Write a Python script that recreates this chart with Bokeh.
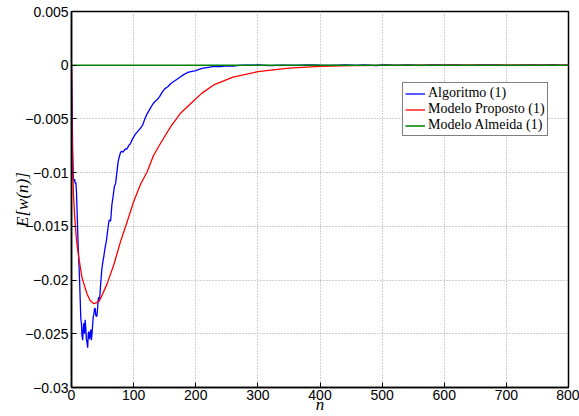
from bokeh.plotting import figure
from bokeh.models import ColumnDataSource, Legend, LegendItem, FixedTicker
from bokeh.embed import file_html
from bokeh.resources import INLINE

# ---------------- data ----------------
n_alg = [0, 1, 2, 3, 4, 5, 6, 7, 8, 9, 10, 11, 12, 13, 14, 15, 16, 17, 18, 19,
         20, 21, 22, 23, 24, 25, 26, 27, 28, 29, 30, 31, 32, 33, 34, 35, 36, 37, 38, 39,
         40, 41, 42, 43, 44, 45, 46, 47, 48, 49, 50, 52, 54, 56, 58, 60, 61, 63, 65, 67,
         69, 71, 73, 75, 77, 79, 81, 83, 85, 87, 89, 91, 93, 95, 97, 100, 103, 106, 109, 112,
         115, 118, 121, 124, 127, 130, 134, 138, 142, 146, 150, 155, 160, 165, 170, 175, 180, 186, 192, 200,
         210, 220, 230, 240, 250, 260, 270, 280, 300, 320, 340, 360, 380, 400, 420, 440, 460, 470, 480, 490,
         500, 510, 520, 530, 540, 560, 580, 600, 620, 640, 660, 680, 700, 720, 740, 760, 770, 780, 790, 800]
e_alg = [0, -0.0040, -0.0085, -0.0105, -0.0108, -0.0106, -0.0110, -0.0109, -0.0118, -0.0136,
         -0.0155, -0.0172, -0.0185, -0.0200, -0.0218, -0.0236, -0.0240, -0.0252, -0.0256, -0.0244,
         -0.0240, -0.0250, -0.0237, -0.0245, -0.0255, -0.0258, -0.0263, -0.0250, -0.0248, -0.0255,
         -0.0250, -0.0246, -0.0256, -0.0250, -0.0242, -0.0234, -0.0232, -0.0227, -0.0226, -0.0232,
         -0.0234, -0.0233, -0.0226, -0.0218, -0.0216, -0.0220, -0.0212, -0.0203, -0.0196, -0.0189,
         -0.0185, -0.0178, -0.0170, -0.0164, -0.0155, -0.0146, -0.0144, -0.0145, -0.0130, -0.0122,
         -0.0113, -0.0110, -0.0100, -0.0090, -0.0085, -0.0081, -0.0080, -0.0081, -0.0079, -0.0078,
         -0.0078, -0.0076, -0.0074, -0.0073, -0.0070, -0.0067, -0.0064, -0.0062, -0.0060, -0.0058,
         -0.0055, -0.0050, -0.0046, -0.0043, -0.0040, -0.0037, -0.0034, -0.0032, -0.0029, -0.0025,
         -0.0022, -0.0020, -0.0017, -0.0015, -0.0013, -0.0011, -0.0009, -0.0007, -0.0006, -0.0005,
         -0.0003, -0.0002, -0.0001, -0.00012, -0.00005, -0.00008, -0.00002, 0.0, 0.00002, -0.00003,
         0.00001, -0.00002, 0.00003, 0.0, -0.00002, 0.00002, -0.00001, 0.00004, 0.0, -0.00003,
         0.00002, 0.00004, -0.00002, 0.00001, 0.00003, -0.00002, 0.00002, 0.0, 0.00004, -0.00001,
         0.00002, 0.00003, -0.00002, 0.00001, 0.00003, 0.0, 0.00004, 0.00002, -0.00001, 0.00002]

n_mod = [0, 1, 2, 3, 5, 8, 12, 17, 25, 30, 36, 41, 47, 57, 68, 79, 90, 100, 111, 122,
         132, 145, 160, 175, 195, 210, 230, 260, 300, 350, 400, 450, 500, 600, 700, 800]
e_mod = [0, -0.0065, -0.0095, -0.0118, -0.0140, -0.0163, -0.0180, -0.0198, -0.0213, -0.0219,
         -0.0222, -0.0221, -0.0217, -0.0204, -0.0186, -0.0164, -0.0145, -0.0127, -0.0111, -0.0099,
         -0.0084, -0.0071, -0.0057, -0.0045, -0.0034, -0.0026, -0.0018, -0.0011, -0.0006, -0.00027,
         -0.0001, -0.00004, -0.00001, 0.0, 0.0, 0.0]

n_alm = [0, 800]
e_alm = [0.0, 0.0]

x_ticks = [0, 100, 200, 300, 400, 500, 600, 700, 800]
x_tick_labels = ["0", "100", "200", "300", "400", "500", "600", "700", "800"]
y_ticks = [-0.03, -0.025, -0.02, -0.015, -0.01, -0.005, 0.0, 0.005]
y_tick_labels = ["\u22120.03", "\u22120.025", "\u22120.02", "\u22120.015", "\u22120.01",
                 "\u22120.005", "0", "0.005"]

series_names = ["Algoritmo (1)", "Modelo Proposto (1)", "Modelo Almeida (1)"]
x_title = "n"
y_title = "E[w(n)]"

# ---------------- figure ----------------
p = figure(width=579, height=416, output_backend="svg", toolbar_location=None,
           x_range=(0, 800), y_range=(-0.03, 0.005))
p.min_border_left = 71
p.min_border_right = 11
p.min_border_top = 11
p.min_border_bottom = 28

p.outline_line_color = "black"
p.outline_line_width = 1.5
p.background_fill_color = "white"
p.border_fill_color = "white"

for ax in (p.xaxis[0], p.yaxis[0]):
    ax.axis_line_color = "black"
    ax.axis_line_width = 1.5
    ax.major_tick_in = 5
    ax.major_tick_out = 0
    ax.minor_tick_line_color = None
    ax.major_tick_line_color = "black"
    ax.major_label_text_font = "Liberation Sans"
    ax.major_label_text_font_size = "14px"
    ax.major_label_text_color = "black"
    ax.axis_label_text_font = "Liberation Serif"
    ax.axis_label_text_font_style = "italic"
    ax.axis_label_text_color = "black"

p.xaxis[0].ticker = FixedTicker(ticks=x_ticks)
p.xaxis[0].major_label_overrides = dict(zip(x_ticks, x_tick_labels))
p.yaxis[0].ticker = FixedTicker(ticks=y_ticks)
p.yaxis[0].major_label_overrides = dict(zip(y_ticks, y_tick_labels))
p.xaxis[0].major_label_standoff = 2
p.yaxis[0].major_label_standoff = 3
p.xaxis[0].axis_label = x_title
p.xaxis[0].axis_label_text_font_size = "17px"
p.xaxis[0].axis_label_standoff = -8
p.yaxis[0].axis_label = y_title
p.yaxis[0].axis_label_text_font_size = "17px"
p.yaxis[0].axis_label_standoff = -10

for g in (p.xgrid[0], p.ygrid[0]):
    g.grid_line_color = "#a0a0a0"
    g.grid_line_dash = "1 2"
    g.grid_line_width = 1

src_alg = ColumnDataSource(dict(n=n_alg, e=e_alg))
src_mod = ColumnDataSource(dict(n=n_mod, e=e_mod))
src_alm = ColumnDataSource(dict(n=n_alm, e=e_alm))

r1 = p.line("n", "e", source=src_alg, line_color="#0000ff", line_width=1.3)
r2 = p.line("n", "e", source=src_mod, line_color="#ff0000", line_width=1.3)
r3 = p.line("n", "e", source=src_alm, line_color="#008000", line_width=1.5)

legend = Legend(items=[LegendItem(label=series_names[0], renderers=[r1]),
                       LegendItem(label=series_names[1], renderers=[r2]),
                       LegendItem(label=series_names[2], renderers=[r3])],
                location=(331, 251))
legend.label_text_font = "Liberation Serif"
legend.label_text_font_size = "14px"
legend.label_text_color = "black"
legend.glyph_width = 20
legend.glyph_height = 15
legend.label_height = 15
legend.spacing = 0
legend.padding = 2
legend.margin = 0
legend.label_standoff = 3
legend.border_line_color = "black"
legend.border_line_width = 1
legend.background_fill_color = "white"
legend.background_fill_alpha = 1.0
p.add_layout(legend)

open("out.html", "w").write(file_html(p, INLINE))
